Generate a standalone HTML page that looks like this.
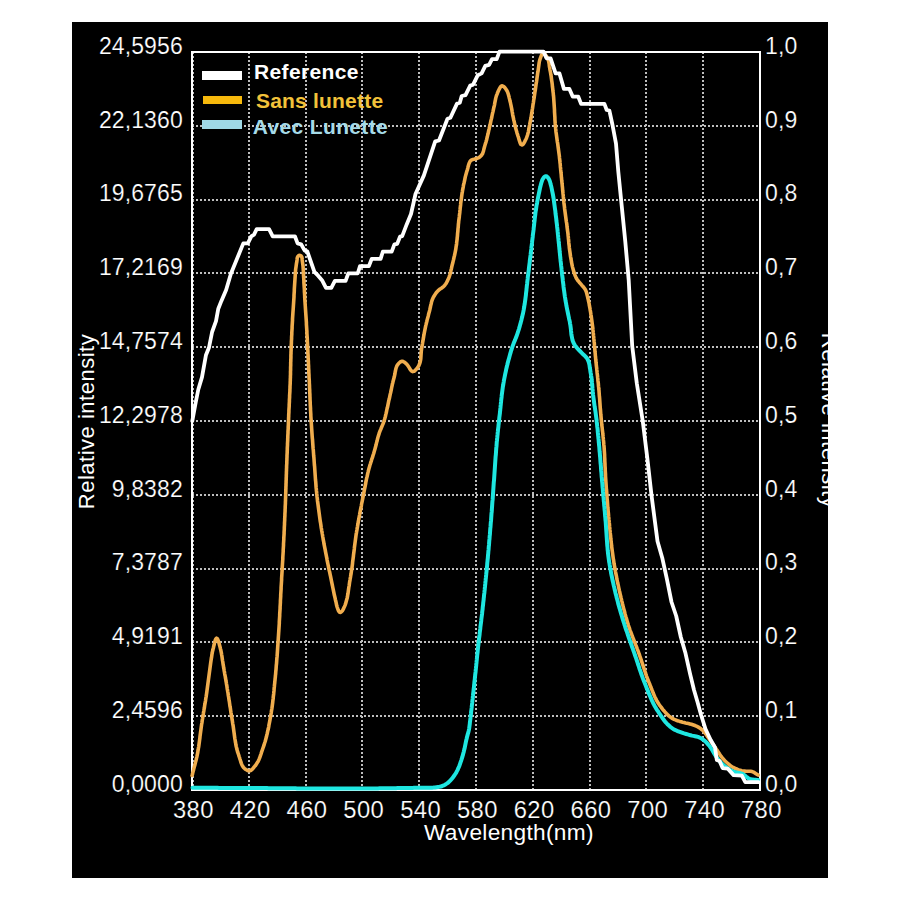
<!DOCTYPE html>
<html><head><meta charset="utf-8"><style>
html,body{margin:0;padding:0;background:#fff;width:900px;height:900px;overflow:hidden}
svg{display:block}
text{font-family:"Liberation Sans",sans-serif}
</style></head><body>
<svg width="900" height="900" viewBox="0 0 900 900">
<rect x="0" y="0" width="900" height="900" fill="#fff"/>
<rect x="72" y="22" width="756" height="856" fill="#000"/>
<g stroke="#bebebe" stroke-width="2" stroke-dasharray="2 2" fill="none">
<line x1="193" y1="52" x2="193" y2="789" />
<line x1="249" y1="52" x2="249" y2="789" />
<line x1="306" y1="52" x2="306" y2="789" />
<line x1="362" y1="52" x2="362" y2="789" />
<line x1="419" y1="52" x2="419" y2="789" />
<line x1="476" y1="52" x2="476" y2="789" />
<line x1="533" y1="52" x2="533" y2="789" />
<line x1="590" y1="52" x2="590" y2="789" />
<line x1="646" y1="52" x2="646" y2="789" />
<line x1="703" y1="52" x2="703" y2="789" />
<line x1="192" y1="126" x2="759" y2="126" />
<line x1="192" y1="200" x2="759" y2="200" />
<line x1="192" y1="273" x2="759" y2="273" />
<line x1="192" y1="347" x2="759" y2="347" />
<line x1="192" y1="421" x2="759" y2="421" />
<line x1="192" y1="495" x2="759" y2="495" />
<line x1="192" y1="569" x2="759" y2="569" />
<line x1="192" y1="642" x2="759" y2="642" />
<line x1="192" y1="716" x2="759" y2="716" />
</g>
<rect x="192" y="52" width="568" height="738" fill="none" stroke="#fff" stroke-width="2"/>
<g fill="#fff" font-size="22.5" stroke="#000" stroke-width="0.2">
<text x="182.8" y="53.7" text-anchor="end" letter-spacing="0.1" font-size="23">24,5956</text>
<text x="182.8" y="127.5" text-anchor="end" letter-spacing="0.1" font-size="23">22,1360</text>
<text x="182.8" y="201.3" text-anchor="end" letter-spacing="0.1" font-size="23">19,6765</text>
<text x="182.8" y="275.1" text-anchor="end" letter-spacing="0.1" font-size="23">17,2169</text>
<text x="182.8" y="348.9" text-anchor="end" letter-spacing="0.1" font-size="23">14,7574</text>
<text x="182.8" y="422.7" text-anchor="end" letter-spacing="0.1" font-size="23">12,2978</text>
<text x="182.8" y="496.5" text-anchor="end" letter-spacing="0.1" font-size="23">9,8382</text>
<text x="182.8" y="570.3" text-anchor="end" letter-spacing="0.1" font-size="23">7,3787</text>
<text x="182.8" y="644.1" text-anchor="end" letter-spacing="0.1" font-size="23">4,9191</text>
<text x="182.8" y="717.9" text-anchor="end" letter-spacing="0.1" font-size="23">2,4596</text>
<text x="182.8" y="791.7" text-anchor="end" letter-spacing="0.1" font-size="23">0,0000</text>
<text x="765" y="53.7" letter-spacing="0.1" font-size="23">1,0</text>
<text x="765" y="127.5" letter-spacing="0.1" font-size="23">0,9</text>
<text x="765" y="201.3" letter-spacing="0.1" font-size="23">0,8</text>
<text x="765" y="275.1" letter-spacing="0.1" font-size="23">0,7</text>
<text x="765" y="348.9" letter-spacing="0.1" font-size="23">0,6</text>
<text x="765" y="422.7" letter-spacing="0.1" font-size="23">0,5</text>
<text x="765" y="496.5" letter-spacing="0.1" font-size="23">0,4</text>
<text x="765" y="570.3" letter-spacing="0.1" font-size="23">0,3</text>
<text x="765" y="644.1" letter-spacing="0.1" font-size="23">0,2</text>
<text x="765" y="717.9" letter-spacing="0.1" font-size="23">0,1</text>
<text x="765" y="791.7" letter-spacing="0.1" font-size="23">0,0</text>
<text x="193.4" y="817.9" text-anchor="middle" letter-spacing="0.4" font-size="23.8">380</text>
<text x="250.2" y="817.9" text-anchor="middle" letter-spacing="0.4" font-size="23.8">420</text>
<text x="307" y="817.9" text-anchor="middle" letter-spacing="0.4" font-size="23.8">460</text>
<text x="363.8" y="817.9" text-anchor="middle" letter-spacing="0.4" font-size="23.8">500</text>
<text x="420.6" y="817.9" text-anchor="middle" letter-spacing="0.4" font-size="23.8">540</text>
<text x="477.4" y="817.9" text-anchor="middle" letter-spacing="0.4" font-size="23.8">580</text>
<text x="534.2" y="817.9" text-anchor="middle" letter-spacing="0.4" font-size="23.8">620</text>
<text x="591" y="817.9" text-anchor="middle" letter-spacing="0.4" font-size="23.8">660</text>
<text x="647.8" y="817.9" text-anchor="middle" letter-spacing="0.4" font-size="23.8">700</text>
<text x="704.6" y="817.9" text-anchor="middle" letter-spacing="0.4" font-size="23.8">740</text>
<text x="761.4" y="817.9" text-anchor="middle" letter-spacing="0.4" font-size="23.8">780</text>
</g>
<text x="424" y="840" fill="#fff" font-size="22.7" letter-spacing="0.3">Wavelength(nm)</text>
<text transform="translate(94.4 421.5) rotate(-90)" text-anchor="middle" fill="#fff" font-size="22" letter-spacing="0.5">Relative intensity</text>
<text transform="translate(821.5 420.5) rotate(90)" text-anchor="middle" fill="#fff" font-size="22" letter-spacing="0.5">Relative intensity</text>
<g fill="none" stroke-linejoin="round" stroke-linecap="round">
<path d="M192.1 775.5 L192.4 774.5 L192.7 773.1 L193.1 771.6 L193.5 770.2 L193.8 768.7 L194.2 767.3 L194.6 765.8 L195 764.4 L195.3 762.9 L195.7 761.5 L196.1 760 L196.4 758.6 L196.8 757.1 L197.1 755.6 L197.4 754.2 L197.7 752.7 L197.9 751.2 L198.2 749.7 L198.4 748.2 L198.7 746.8 L198.9 745.3 L199.1 743.8 L199.3 742.3 L199.5 740.8 L199.7 739.3 L199.9 737.8 L200 736.4 L200.2 734.9 L200.4 733.4 L200.6 731.9 L200.8 730.4 L201 728.9 L201.2 727.4 L201.4 725.9 L201.6 724.5 L201.9 723 L202.1 721.5 L202.3 720 L202.6 718.5 L202.8 717.1 L203 715.6 L203.3 714.1 L203.5 712.6 L203.8 711.1 L204 709.7 L204.3 708.2 L204.5 706.7 L204.7 705.2 L205 703.7 L205.2 702.3 L205.5 700.8 L205.7 699.3 L205.9 697.8 L206.2 696.3 L206.4 694.8 L206.6 693.4 L206.8 691.9 L207 690.4 L207.2 688.9 L207.4 687.4 L207.6 685.9 L207.8 684.4 L208 683 L208.2 681.5 L208.4 680 L208.6 678.5 L208.8 677 L209 675.5 L209.2 674 L209.4 672.5 L209.6 671.1 L209.8 669.6 L210 668.1 L210.2 666.6 L210.4 665.1 L210.6 663.6 L210.8 662.1 L211 660.7 L211.2 659.2 L211.5 657.7 L211.7 656.2 L211.9 654.7 L212.2 653.2 L212.4 651.8 L212.8 650.3 L213.1 648.8 L213.5 647.4 L213.8 645.9 L214.2 644.5 L214.5 643 L214.9 641.6 L215.3 640.1 L215.9 638.8 L216.6 638.2 L217.4 638.7 L218 640 L218.5 641.4 L218.9 642.9 L219.3 644.3 L219.7 645.8 L220.1 647.2 L220.4 648.7 L220.8 650.1 L221.1 651.6 L221.4 653.1 L221.6 654.5 L221.9 656 L222.1 657.5 L222.3 659 L222.5 660.5 L222.8 662 L223 663.4 L223.2 664.9 L223.5 666.4 L223.7 667.9 L224 669.4 L224.2 670.8 L224.5 672.3 L224.7 673.8 L225 675.3 L225.3 676.7 L225.5 678.2 L225.8 679.7 L226 681.2 L226.3 682.7 L226.5 684.1 L226.8 685.6 L227 687.1 L227.2 688.6 L227.5 690.1 L227.7 691.5 L228 693 L228.2 694.5 L228.4 696 L228.7 697.5 L228.9 698.9 L229.1 700.4 L229.4 701.9 L229.6 703.4 L229.8 704.9 L230 706.4 L230.3 707.8 L230.5 709.3 L230.7 710.8 L230.9 712.3 L231.2 713.8 L231.4 715.3 L231.6 716.7 L231.9 718.2 L232.1 719.7 L232.4 721.2 L232.6 722.7 L232.8 724.1 L233.1 725.6 L233.3 727.1 L233.5 728.6 L233.7 730.1 L233.9 731.6 L234.1 733.1 L234.3 734.5 L234.5 736 L234.7 737.5 L234.9 739 L235.2 740.5 L235.4 742 L235.7 743.4 L235.9 744.9 L236.2 746.4 L236.6 747.8 L236.9 749.3 L237.3 750.7 L237.7 752.2 L238.2 753.6 L238.7 755 L239.1 756.5 L239.6 757.9 L240 759.3 L240.5 760.8 L240.9 762.2 L241.4 763.6 L242 765 L242.7 766.3 L243.5 767.5 L244.6 768.6 L245.8 769.5 L247.1 770.2 L248.4 770.7 L249.8 770.7 L251.2 770.2 L252.3 769.2 L253.3 768.1 L254.2 766.9 L255.2 765.8 L256.1 764.6 L256.9 763.3 L257.7 762.1 L258.4 760.7 L259 759.4 L259.6 758 L260.1 756.6 L260.6 755.2 L261.1 753.7 L261.5 752.3 L262 750.9 L262.5 749.5 L263 748 L263.5 746.6 L264 745.2 L264.4 743.8 L264.9 742.3 L265.3 740.9 L265.7 739.5 L266.1 738 L266.5 736.6 L266.8 735.1 L267.2 733.7 L267.5 732.2 L267.8 730.7 L268.2 729.3 L268.5 727.8 L268.8 726.3 L269 724.8 L269.3 723.4 L269.6 721.9 L269.9 720.4 L270.1 718.9 L270.4 717.5 L270.7 716 L270.9 714.5 L271.2 713 L271.4 711.6 L271.6 710.1 L271.9 708.6 L272.1 707.1 L272.3 705.6 L272.5 704.1 L272.7 702.6 L272.8 701.2 L273 699.7 L273.2 698.2 L273.3 696.7 L273.5 695.2 L273.7 693.7 L273.8 692.2 L274 690.7 L274.1 689.2 L274.2 687.7 L274.4 686.2 L274.5 684.7 L274.7 683.3 L274.8 681.8 L275 680.3 L275.1 678.8 L275.3 677.3 L275.4 675.8 L275.6 674.3 L275.7 672.8 L275.8 671.3 L276 669.8 L276.1 668.3 L276.2 666.8 L276.3 665.3 L276.5 663.8 L276.6 662.3 L276.7 660.8 L276.8 659.3 L276.9 657.9 L277.1 656.4 L277.2 654.9 L277.3 653.4 L277.4 651.9 L277.5 650.4 L277.6 648.9 L277.7 647.4 L277.8 645.9 L277.9 644.4 L278 642.9 L278.1 641.4 L278.2 639.9 L278.3 638.4 L278.4 636.9 L278.5 635.4 L278.6 633.9 L278.7 632.4 L278.8 630.9 L278.9 629.4 L279 627.9 L279.1 626.4 L279.2 624.9 L279.3 623.4 L279.3 621.9 L279.4 620.4 L279.5 618.9 L279.6 617.4 L279.7 615.9 L279.7 614.4 L279.8 612.9 L279.9 611.4 L280 609.9 L280.1 608.5 L280.1 607 L280.2 605.5 L280.3 604 L280.4 602.5 L280.4 601 L280.5 599.5 L280.6 598 L280.7 596.5 L280.7 595 L280.8 593.5 L280.9 592 L281 590.5 L281.1 589 L281.1 587.5 L281.2 586 L281.3 584.5 L281.4 583 L281.5 581.5 L281.6 580 L281.6 578.5 L281.7 577 L281.8 575.5 L281.9 574 L282 572.5 L282.1 571 L282.2 569.5 L282.2 568 L282.3 566.5 L282.4 565 L282.5 563.5 L282.6 562 L282.7 560.5 L282.8 559 L282.8 557.5 L282.9 556 L283 554.5 L283.1 553 L283.2 551.5 L283.2 550 L283.3 548.5 L283.4 547 L283.5 545.5 L283.5 544 L283.6 542.5 L283.7 541 L283.8 539.6 L283.8 538.1 L283.9 536.6 L284 535.1 L284.1 533.6 L284.1 532.1 L284.2 530.6 L284.3 529.1 L284.3 527.6 L284.4 526.1 L284.5 524.6 L284.5 523.1 L284.6 521.6 L284.7 520.1 L284.7 518.6 L284.8 517.1 L284.9 515.6 L284.9 514.1 L285 512.6 L285.1 511.1 L285.1 509.6 L285.2 508.1 L285.2 506.6 L285.3 505.1 L285.4 503.6 L285.4 502.1 L285.5 500.6 L285.5 499.1 L285.6 497.6 L285.6 496.1 L285.7 494.6 L285.7 493.1 L285.8 491.6 L285.8 490.1 L285.9 488.6 L285.9 487.1 L286 485.6 L286 484.1 L286.1 482.6 L286.1 481.1 L286.2 479.6 L286.2 478.1 L286.3 476.6 L286.3 475.1 L286.4 473.6 L286.4 472.1 L286.5 470.6 L286.5 469.1 L286.6 467.6 L286.6 466.1 L286.7 464.6 L286.8 463.1 L286.8 461.6 L286.9 460.1 L286.9 458.6 L287 457.1 L287 455.6 L287.1 454.1 L287.2 452.6 L287.2 451.1 L287.3 449.6 L287.3 448.1 L287.4 446.6 L287.5 445.1 L287.5 443.6 L287.6 442.1 L287.7 440.6 L287.7 439.1 L287.8 437.6 L287.8 436.1 L287.9 434.6 L288 433.1 L288 431.6 L288.1 430.1 L288.2 428.6 L288.2 427.1 L288.3 425.6 L288.4 424.1 L288.4 422.6 L288.5 421.1 L288.6 419.6 L288.6 418.1 L288.7 416.7 L288.7 415.2 L288.8 413.7 L288.9 412.2 L288.9 410.7 L289 409.2 L289.1 407.7 L289.2 406.2 L289.2 404.7 L289.3 403.2 L289.4 401.7 L289.4 400.2 L289.5 398.7 L289.6 397.2 L289.6 395.7 L289.7 394.2 L289.8 392.7 L289.9 391.2 L289.9 389.7 L290 388.2 L290 386.7 L290.1 385.2 L290.2 383.7 L290.2 382.2 L290.3 380.7 L290.3 379.2 L290.4 377.7 L290.4 376.2 L290.5 374.7 L290.5 373.2 L290.5 371.7 L290.6 370.2 L290.6 368.7 L290.6 367.2 L290.7 365.7 L290.7 364.2 L290.7 362.7 L290.8 361.2 L290.8 359.7 L290.9 358.2 L290.9 356.7 L290.9 355.2 L291 353.7 L291 352.2 L291.1 350.7 L291.1 349.2 L291.2 347.7 L291.2 346.2 L291.3 344.7 L291.4 343.2 L291.4 341.7 L291.5 340.2 L291.6 338.7 L291.6 337.2 L291.7 335.7 L291.8 334.2 L291.8 332.7 L291.9 331.2 L292 329.7 L292.1 328.2 L292.1 326.7 L292.2 325.2 L292.3 323.7 L292.4 322.2 L292.5 320.7 L292.5 319.2 L292.6 317.7 L292.7 316.2 L292.8 314.7 L292.9 313.2 L293 311.7 L293.1 310.3 L293.2 308.8 L293.3 307.3 L293.4 305.8 L293.5 304.3 L293.6 302.8 L293.7 301.3 L293.8 299.8 L293.9 298.3 L294 296.8 L294 295.3 L294.1 293.8 L294.2 292.3 L294.3 290.8 L294.3 289.3 L294.4 287.8 L294.5 286.3 L294.6 284.8 L294.7 283.3 L294.8 281.8 L294.9 280.3 L295 278.8 L295.1 277.3 L295.2 275.8 L295.3 274.3 L295.4 272.8 L295.5 271.3 L295.6 269.8 L295.8 268.3 L296 266.9 L296.2 265.4 L296.4 263.9 L296.7 262.4 L296.9 260.9 L297.1 259.4 L297.2 258 L297.7 256.6 L298.6 255.6 L299.9 255.4 L301.1 255.9 L301.8 257 L302.1 258.4 L302.2 259.9 L302.4 261.4 L302.6 262.9 L302.8 264.4 L303 265.8 L303.1 267.3 L303.2 268.8 L303.3 270.3 L303.4 271.8 L303.5 273.3 L303.5 274.8 L303.6 276.3 L303.7 277.8 L303.8 279.3 L303.9 280.8 L303.9 282.3 L304 283.8 L304.1 285.3 L304.2 286.8 L304.3 288.3 L304.4 289.8 L304.4 291.3 L304.5 292.8 L304.6 294.3 L304.7 295.8 L304.7 297.3 L304.8 298.8 L304.9 300.3 L305 301.8 L305.1 303.3 L305.2 304.8 L305.3 306.3 L305.4 307.8 L305.5 309.3 L305.6 310.8 L305.7 312.3 L305.8 313.8 L305.9 315.3 L306 316.7 L306.1 318.2 L306.2 319.7 L306.3 321.2 L306.4 322.7 L306.4 324.2 L306.5 325.7 L306.6 327.2 L306.7 328.7 L306.8 330.2 L306.9 331.7 L306.9 333.2 L307 334.7 L307.1 336.2 L307.2 337.7 L307.3 339.2 L307.3 340.7 L307.4 342.2 L307.5 343.7 L307.6 345.2 L307.6 346.7 L307.7 348.2 L307.8 349.7 L307.9 351.2 L307.9 352.7 L308 354.2 L308.1 355.7 L308.1 357.2 L308.2 358.7 L308.3 360.2 L308.4 361.7 L308.4 363.2 L308.5 364.7 L308.6 366.2 L308.6 367.7 L308.7 369.2 L308.8 370.7 L308.8 372.2 L308.9 373.7 L309 375.2 L309 376.7 L309.1 378.2 L309.2 379.7 L309.3 381.2 L309.3 382.7 L309.4 384.2 L309.5 385.7 L309.5 387.2 L309.6 388.7 L309.7 390.2 L309.7 391.7 L309.8 393.2 L309.9 394.7 L309.9 396.1 L310 397.6 L310 399.1 L310.1 400.6 L310.2 402.1 L310.2 403.6 L310.3 405.1 L310.4 406.6 L310.5 408.1 L310.5 409.6 L310.6 411.1 L310.7 412.6 L310.8 414.1 L310.8 415.6 L310.9 417.1 L311 418.6 L311.1 420.1 L311.2 421.6 L311.3 423.1 L311.4 424.6 L311.5 426.1 L311.6 427.6 L311.7 429.1 L311.8 430.6 L311.9 432.1 L312 433.6 L312.1 435.1 L312.2 436.6 L312.3 438.1 L312.5 439.6 L312.6 441.1 L312.7 442.6 L312.8 444.1 L312.9 445.6 L313 447.1 L313.1 448.5 L313.3 450 L313.4 451.5 L313.5 453 L313.6 454.5 L313.7 456 L313.9 457.5 L314 459 L314.1 460.5 L314.2 462 L314.3 463.5 L314.4 465 L314.6 466.5 L314.7 468 L314.8 469.5 L314.9 471 L315 472.5 L315.1 474 L315.2 475.5 L315.3 477 L315.4 478.5 L315.5 480 L315.7 481.5 L315.8 482.9 L315.9 484.4 L316 485.9 L316.1 487.4 L316.3 488.9 L316.4 490.4 L316.6 491.9 L316.7 493.4 L316.9 494.9 L317 496.4 L317.2 497.9 L317.4 499.4 L317.5 500.9 L317.7 502.3 L317.9 503.8 L318.1 505.3 L318.3 506.8 L318.5 508.3 L318.7 509.8 L318.9 511.3 L319.1 512.8 L319.3 514.2 L319.5 515.7 L319.7 517.2 L319.9 518.7 L320.1 520.2 L320.3 521.7 L320.6 523.2 L320.8 524.6 L321 526.1 L321.2 527.6 L321.5 529.1 L321.7 530.6 L322 532 L322.2 533.5 L322.5 535 L322.7 536.5 L323 538 L323.2 539.4 L323.5 540.9 L323.8 542.4 L324 543.9 L324.3 545.3 L324.6 546.8 L324.9 548.3 L325.2 549.8 L325.4 551.2 L325.7 552.7 L326 554.2 L326.3 555.6 L326.6 557.1 L326.9 558.6 L327.1 560.1 L327.4 561.5 L327.7 563 L328 564.5 L328.3 565.9 L328.6 567.4 L328.9 568.9 L329.2 570.4 L329.6 571.8 L329.9 573.3 L330.2 574.8 L330.5 576.2 L330.8 577.7 L331.1 579.2 L331.4 580.6 L331.7 582.1 L332 583.6 L332.3 585 L332.6 586.5 L332.9 588 L333.2 589.4 L333.5 590.9 L333.8 592.4 L334.1 593.9 L334.4 595.3 L334.8 596.8 L335.1 598.2 L335.4 599.7 L335.8 601.2 L336.1 602.6 L336.4 604.1 L336.7 605.6 L337.1 607 L337.6 608.4 L338.1 609.8 L338.7 611.2 L339.5 612.2 L340.6 612.4 L341.6 611.6 L342.6 610.5 L343.3 609.2 L343.9 607.8 L344.5 606.5 L345.1 605.1 L345.6 603.7 L346 602.2 L346.4 600.8 L346.8 599.3 L347.2 597.9 L347.5 596.4 L347.7 594.9 L348 593.5 L348.2 592 L348.4 590.5 L348.6 589 L348.8 587.5 L349.1 586 L349.3 584.5 L349.5 583.1 L349.7 581.6 L350 580.1 L350.2 578.6 L350.5 577.1 L350.7 575.7 L351 574.2 L351.2 572.7 L351.4 571.2 L351.7 569.7 L351.9 568.3 L352.1 566.8 L352.3 565.3 L352.5 563.8 L352.6 562.3 L352.8 560.8 L353 559.3 L353.2 557.8 L353.4 556.3 L353.5 554.9 L353.7 553.4 L353.9 551.9 L354.1 550.4 L354.3 548.9 L354.4 547.4 L354.6 545.9 L354.8 544.4 L355 542.9 L355.2 541.5 L355.4 540 L355.6 538.5 L355.8 537 L356 535.5 L356.2 534 L356.5 532.6 L356.7 531.1 L357 529.6 L357.2 528.1 L357.5 526.6 L357.7 525.2 L358 523.7 L358.2 522.2 L358.5 520.7 L358.8 519.2 L359 517.8 L359.3 516.3 L359.6 514.8 L359.8 513.3 L360.1 511.9 L360.4 510.4 L360.7 508.9 L361 507.5 L361.3 506 L361.5 504.5 L361.8 503 L362.1 501.6 L362.4 500.1 L362.7 498.6 L363 497.1 L363.3 495.7 L363.6 494.2 L363.9 492.7 L364.1 491.3 L364.4 489.8 L364.7 488.3 L365 486.8 L365.3 485.4 L365.6 483.9 L365.8 482.4 L366.1 481 L366.4 479.5 L366.7 478 L367.1 476.5 L367.4 475.1 L367.7 473.6 L368.1 472.2 L368.4 470.7 L368.8 469.3 L369.2 467.8 L369.6 466.4 L370 464.9 L370.5 463.5 L370.9 462.1 L371.4 460.6 L371.8 459.2 L372.3 457.8 L372.8 456.4 L373.2 454.9 L373.7 453.5 L374.1 452.1 L374.5 450.6 L374.9 449.2 L375.3 447.7 L375.7 446.3 L376.1 444.8 L376.4 443.4 L376.8 441.9 L377.2 440.5 L377.5 439 L377.9 437.6 L378.3 436.1 L378.8 434.7 L379.2 433.2 L379.7 431.8 L380.3 430.4 L380.9 429 L381.4 427.7 L382 426.3 L382.6 424.9 L383.2 423.5 L383.7 422.1 L384.1 420.7 L384.6 419.2 L385 417.8 L385.4 416.4 L385.7 414.9 L386.1 413.4 L386.4 412 L386.7 410.5 L387 409 L387.4 407.6 L387.7 406.1 L388 404.6 L388.3 403.2 L388.6 401.7 L388.9 400.2 L389.3 398.8 L389.6 397.3 L389.9 395.9 L390.2 394.4 L390.6 392.9 L390.9 391.4 L391.2 390 L391.5 388.5 L391.8 387 L392.1 385.6 L392.4 384.1 L392.8 382.7 L393.1 381.2 L393.5 379.8 L393.9 378.3 L394.3 376.8 L394.6 375.4 L394.9 373.9 L395.1 372.4 L395.4 371 L395.7 369.5 L396.1 368 L396.6 366.6 L397.2 365.3 L398.1 364.1 L399.1 363 L400.2 362 L401.5 361.4 L402.9 361.4 L404.1 362 L405.3 362.9 L406.4 363.9 L407.4 365 L408.3 366.3 L409.1 367.5 L409.8 368.8 L410.6 370.1 L411.6 371.1 L412.8 371.6 L414.1 371.3 L415.2 370.4 L416.2 369.3 L417.2 368.2 L418 366.9 L418.8 365.7 L419.4 364.3 L419.9 362.9 L420.3 361.5 L420.6 360 L420.8 358.5 L420.9 357 L421 355.5 L421.1 354 L421.2 352.5 L421.3 351 L421.5 349.5 L421.7 348 L422 346.6 L422.2 345.1 L422.5 343.6 L422.7 342.1 L423 340.7 L423.2 339.2 L423.5 337.7 L423.7 336.2 L424 334.7 L424.2 333.3 L424.5 331.8 L424.8 330.3 L425.1 328.8 L425.4 327.4 L425.7 325.9 L426.1 324.4 L426.4 323 L426.8 321.5 L427.1 320.1 L427.5 318.6 L427.9 317.2 L428.3 315.7 L428.6 314.3 L429 312.8 L429.4 311.4 L429.8 309.9 L430.1 308.4 L430.4 307 L430.7 305.5 L431.1 304 L431.4 302.6 L431.8 301.1 L432.3 299.7 L432.9 298.3 L433.5 297 L434.3 295.7 L435.1 294.4 L435.9 293.2 L436.9 292 L437.9 290.9 L439 289.9 L440.1 289 L441.4 288.2 L442.6 287.3 L443.8 286.3 L444.8 285.2 L445.7 284 L446.4 282.8 L447.2 281.4 L447.8 280.1 L448.4 278.7 L449 277.4 L449.5 275.9 L450 274.5 L450.3 273.1 L450.7 271.6 L451 270.1 L451.4 268.7 L451.7 267.2 L452 265.8 L452.4 264.3 L452.8 262.8 L453.1 261.4 L453.5 259.9 L453.8 258.5 L454.1 257 L454.5 255.5 L454.8 254.1 L455.1 252.6 L455.4 251.1 L455.7 249.7 L455.9 248.2 L456.1 246.7 L456.4 245.2 L456.6 243.7 L456.7 242.2 L456.9 240.8 L457.1 239.3 L457.2 237.8 L457.4 236.3 L457.5 234.8 L457.6 233.3 L457.8 231.8 L457.9 230.3 L458 228.8 L458.2 227.3 L458.3 225.8 L458.4 224.3 L458.6 222.8 L458.7 221.3 L458.9 219.8 L459.1 218.4 L459.3 216.9 L459.4 215.4 L459.6 213.9 L459.8 212.4 L459.9 210.9 L460.1 209.4 L460.2 207.9 L460.4 206.4 L460.6 204.9 L460.7 203.5 L460.9 202 L461.1 200.5 L461.3 199 L461.5 197.5 L461.7 196 L461.9 194.5 L462.1 193 L462.4 191.6 L462.6 190.1 L462.9 188.6 L463.2 187.1 L463.4 185.7 L463.7 184.2 L464.1 182.7 L464.4 181.3 L464.7 179.8 L465 178.3 L465.3 176.9 L465.7 175.4 L466.1 174 L466.5 172.5 L466.9 171.1 L467.4 169.6 L467.8 168.2 L468.1 166.7 L468.5 165.3 L468.9 163.9 L469.5 162.5 L470.2 161.2 L471.3 160.2 L472.6 159.5 L474 159.2 L475.5 158.8 L476.9 158.4 L478.3 157.8 L479.6 157.1 L480.7 156.2 L481.7 155 L482.5 153.8 L483 152.4 L483.5 151 L483.8 149.5 L484.2 148 L484.6 146.6 L485 145.1 L485.4 143.7 L485.9 142.3 L486.3 140.8 L486.7 139.4 L487 137.9 L487.4 136.5 L487.7 135 L488.1 133.6 L488.4 132.1 L488.7 130.6 L489.1 129.2 L489.4 127.7 L489.7 126.2 L490.1 124.8 L490.4 123.3 L490.7 121.9 L491 120.4 L491.4 118.9 L491.7 117.5 L492 116 L492.3 114.5 L492.6 113.1 L493 111.6 L493.3 110.1 L493.6 108.7 L493.9 107.2 L494.3 105.7 L494.6 104.3 L494.8 102.8 L495.1 101.3 L495.4 99.9 L495.7 98.4 L496.1 96.9 L496.5 95.5 L497.1 94.1 L497.6 92.7 L498.2 91.3 L498.8 90 L499.5 88.6 L500.2 87.3 L501.1 86.2 L502.3 85.8 L503.5 86.3 L504.6 87.3 L505.5 88.5 L506.3 89.7 L507.1 91 L507.7 92.4 L508.2 93.8 L508.6 95.2 L509 96.7 L509.3 98.1 L509.7 99.6 L510 101.1 L510.4 102.5 L510.7 104 L511 105.4 L511.3 106.9 L511.6 108.4 L511.9 109.9 L512.1 111.3 L512.4 112.8 L512.6 114.3 L512.9 115.8 L513.2 117.2 L513.5 118.7 L513.8 120.2 L514.2 121.6 L514.5 123.1 L514.8 124.6 L515.2 126 L515.5 127.5 L515.9 128.9 L516.3 130.4 L516.7 131.8 L517.1 133.3 L517.6 134.7 L518 136.1 L518.5 137.5 L518.9 139 L519.3 140.4 L519.8 141.9 L520.3 143.3 L521 144.5 L522 145 L523 144.4 L523.9 143.2 L524.6 141.9 L525.2 140.6 L525.9 139.2 L526.5 137.9 L527 136.5 L527.5 135 L527.9 133.6 L528.3 132.1 L528.6 130.7 L528.9 129.2 L529.1 127.7 L529.4 126.2 L529.7 124.8 L529.9 123.3 L530.2 121.8 L530.5 120.3 L530.8 118.9 L531.1 117.4 L531.3 115.9 L531.5 114.4 L531.8 113 L532 111.5 L532.2 110 L532.5 108.5 L532.7 107 L532.9 105.5 L533.1 104.1 L533.4 102.6 L533.6 101.1 L533.8 99.6 L534.1 98.1 L534.3 96.6 L534.5 95.2 L534.7 93.7 L534.9 92.2 L535.2 90.7 L535.4 89.2 L535.6 87.7 L535.8 86.3 L536 84.8 L536.2 83.3 L536.5 81.8 L536.7 80.3 L536.9 78.8 L537.1 77.3 L537.3 75.9 L537.5 74.4 L537.7 72.9 L538 71.4 L538.2 69.9 L538.4 68.4 L538.6 67 L538.8 65.5 L539 64 L539.2 62.5 L539.5 61 L539.9 59.6 L540.4 58.2 L540.9 56.7 L541.4 55.3 L542.1 54.1 L543 53.3 L544.2 53.6 L545.2 54.6 L546.1 55.7 L547 57 L547.7 58.3 L548.2 59.7 L548.6 61.1 L548.9 62.6 L549.2 64.1 L549.3 65.5 L549.5 67 L549.8 68.5 L550 70 L550.3 71.5 L550.6 72.9 L550.8 74.4 L551.1 75.9 L551.3 77.4 L551.5 78.9 L551.7 80.4 L551.9 81.8 L552.1 83.3 L552.3 84.8 L552.4 86.3 L552.6 87.8 L552.8 89.3 L552.9 90.8 L553.1 92.3 L553.3 93.8 L553.4 95.3 L553.6 96.7 L553.7 98.2 L553.8 99.7 L553.9 101.2 L554 102.7 L554.1 104.2 L554.2 105.7 L554.3 107.2 L554.4 108.7 L554.5 110.2 L554.5 111.7 L554.6 113.2 L554.7 114.7 L554.8 116.2 L554.9 117.7 L554.9 119.2 L555 120.7 L555.1 122.2 L555.2 123.7 L555.4 125.2 L555.5 126.7 L555.6 128.2 L555.8 129.7 L555.9 131.2 L556.1 132.7 L556.3 134.1 L556.5 135.6 L556.7 137.1 L556.9 138.6 L557.1 140.1 L557.3 141.6 L557.6 143.1 L557.8 144.5 L558 146 L558.2 147.5 L558.4 149 L558.6 150.5 L558.8 152 L559 153.4 L559.2 154.9 L559.4 156.4 L559.5 157.9 L559.7 159.4 L559.9 160.9 L560 162.4 L560.2 163.9 L560.3 165.4 L560.4 166.9 L560.6 168.4 L560.7 169.9 L560.9 171.4 L561 172.8 L561.2 174.3 L561.3 175.8 L561.4 177.3 L561.6 178.8 L561.7 180.3 L561.9 181.8 L562 183.3 L562.2 184.8 L562.3 186.3 L562.5 187.8 L562.6 189.3 L562.7 190.8 L562.9 192.3 L563 193.7 L563.2 195.2 L563.3 196.7 L563.5 198.2 L563.6 199.7 L563.8 201.2 L563.9 202.7 L564.1 204.2 L564.3 205.7 L564.5 207.2 L564.6 208.7 L564.8 210.1 L565 211.6 L565.2 213.1 L565.4 214.6 L565.6 216.1 L565.8 217.6 L566 219.1 L566.2 220.6 L566.4 222 L566.7 223.5 L566.9 225 L567 226.5 L567.2 228 L567.4 229.5 L567.6 231 L567.8 232.5 L568 233.9 L568.1 235.4 L568.3 236.9 L568.4 238.4 L568.6 239.9 L568.7 241.4 L568.8 242.9 L569 244.4 L569.2 245.9 L569.3 247.4 L569.5 248.9 L569.7 250.4 L569.9 251.8 L570.1 253.3 L570.3 254.8 L570.5 256.3 L570.8 257.8 L571 259.2 L571.3 260.7 L571.5 262.2 L571.8 263.7 L572.1 265.2 L572.4 266.6 L572.8 268.1 L573.2 269.5 L573.6 271 L574 272.4 L574.5 273.8 L575 275.2 L575.6 276.6 L576.2 278 L577 279.3 L577.8 280.5 L578.8 281.7 L579.7 282.8 L580.7 283.9 L581.7 285.1 L582.7 286.2 L583.7 287.3 L584.6 288.5 L585.4 289.7 L586 291.1 L586.5 292.5 L586.9 294 L587.2 295.4 L587.6 296.9 L587.9 298.3 L588.3 299.8 L588.6 301.3 L588.9 302.7 L589.2 304.2 L589.4 305.7 L589.7 307.2 L590 308.6 L590.2 310.1 L590.5 311.6 L590.7 313.1 L590.9 314.6 L591.2 316 L591.4 317.5 L591.6 319 L591.8 320.5 L592 322 L592.2 323.5 L592.4 325 L592.6 326.4 L592.8 327.9 L592.9 329.4 L593.1 330.9 L593.2 332.4 L593.4 333.9 L593.5 335.4 L593.7 336.9 L593.8 338.4 L594 339.9 L594.1 341.4 L594.3 342.9 L594.4 344.4 L594.5 345.9 L594.7 347.3 L594.8 348.8 L594.9 350.3 L595 351.8 L595.2 353.3 L595.3 354.8 L595.4 356.3 L595.6 357.8 L595.7 359.3 L595.9 360.8 L596 362.3 L596.2 363.8 L596.3 365.3 L596.5 366.8 L596.7 368.3 L596.8 369.7 L597 371.2 L597.1 372.7 L597.3 374.2 L597.5 375.7 L597.6 377.2 L597.8 378.7 L597.9 380.2 L598.1 381.7 L598.3 383.2 L598.4 384.7 L598.5 386.2 L598.7 387.6 L598.8 389.1 L599 390.6 L599.1 392.1 L599.2 393.6 L599.3 395.1 L599.4 396.6 L599.6 398.1 L599.7 399.6 L599.8 401.1 L599.9 402.6 L600 404.1 L600.1 405.6 L600.2 407.1 L600.3 408.6 L600.5 410.1 L600.6 411.6 L600.7 413.1 L600.8 414.6 L601 416.1 L601.1 417.5 L601.2 419 L601.4 420.5 L601.5 422 L601.7 423.5 L601.8 425 L602 426.5 L602.2 428 L602.3 429.5 L602.5 431 L602.7 432.5 L602.8 434 L603 435.4 L603.1 436.9 L603.3 438.4 L603.4 439.9 L603.6 441.4 L603.7 442.9 L603.8 444.4 L604 445.9 L604.1 447.4 L604.2 448.9 L604.3 450.4 L604.4 451.9 L604.5 453.4 L604.6 454.9 L604.6 456.4 L604.7 457.9 L604.8 459.4 L604.8 460.9 L604.9 462.4 L605 463.9 L605 465.4 L605.1 466.9 L605.2 468.4 L605.2 469.9 L605.3 471.4 L605.4 472.9 L605.5 474.4 L605.5 475.9 L605.6 477.4 L605.7 478.9 L605.8 480.3 L605.9 481.8 L606 483.3 L606.1 484.8 L606.2 486.3 L606.3 487.8 L606.4 489.3 L606.6 490.8 L606.7 492.3 L606.8 493.8 L606.9 495.3 L607 496.8 L607.1 498.3 L607.2 499.8 L607.4 501.3 L607.5 502.8 L607.6 504.3 L607.7 505.8 L607.8 507.3 L608 508.8 L608.1 510.3 L608.2 511.8 L608.4 513.2 L608.5 514.7 L608.6 516.2 L608.8 517.7 L608.9 519.2 L609.1 520.7 L609.2 522.2 L609.4 523.7 L609.5 525.2 L609.6 526.7 L609.8 528.2 L609.9 529.7 L610.1 531.2 L610.2 532.7 L610.4 534.2 L610.5 535.6 L610.7 537.1 L610.8 538.6 L611 540.1 L611.1 541.6 L611.3 543.1 L611.5 544.6 L611.6 546.1 L611.8 547.6 L612 549.1 L612.2 550.6 L612.4 552 L612.6 553.5 L612.8 555 L613 556.5 L613.2 558 L613.4 559.5 L613.7 560.9 L613.9 562.4 L614.1 563.9 L614.4 565.4 L614.6 566.9 L614.9 568.3 L615.2 569.8 L615.4 571.3 L615.7 572.8 L616 574.2 L616.3 575.7 L616.6 577.2 L616.8 578.7 L617.1 580.1 L617.4 581.6 L617.7 583.1 L618.1 584.5 L618.4 586 L618.7 587.5 L619 588.9 L619.3 590.4 L619.7 591.9 L620 593.3 L620.3 594.8 L620.7 596.2 L621 597.7 L621.4 599.2 L621.7 600.6 L622.1 602.1 L622.4 603.5 L622.8 605 L623.1 606.5 L623.5 607.9 L623.9 609.4 L624.3 610.8 L624.7 612.3 L625 613.7 L625.4 615.2 L625.8 616.6 L626.3 618 L626.7 619.5 L627.1 620.9 L627.5 622.4 L628 623.8 L628.4 625.2 L628.9 626.7 L629.4 628.1 L629.8 629.5 L630.3 630.9 L630.9 632.3 L631.4 633.7 L631.9 635.1 L632.4 636.5 L633 637.9 L633.5 639.3 L634.1 640.7 L634.6 642.1 L635.2 643.5 L635.7 644.9 L636.3 646.3 L636.8 647.7 L637.3 649.1 L637.9 650.5 L638.4 651.9 L638.9 653.3 L639.4 654.7 L639.9 656.2 L640.4 657.6 L640.9 659 L641.3 660.4 L641.8 661.8 L642.3 663.3 L642.7 664.7 L643.2 666.1 L643.7 667.6 L644.1 669 L644.6 670.4 L645.1 671.8 L645.6 673.2 L646 674.7 L646.5 676.1 L647.1 677.5 L647.6 678.9 L648.1 680.3 L648.7 681.7 L649.3 683.1 L649.8 684.5 L650.4 685.9 L650.9 687.3 L651.5 688.7 L652 690 L652.6 691.4 L653.1 692.8 L653.7 694.2 L654.3 695.6 L654.9 697 L655.6 698.3 L656.2 699.7 L656.9 701 L657.7 702.3 L658.5 703.6 L659.3 704.8 L660.2 706 L661.1 707.2 L662 708.4 L662.9 709.6 L663.9 710.7 L664.9 711.9 L665.9 713 L666.9 714.1 L668 715.1 L669.1 716.1 L670.3 717 L671.5 717.9 L672.8 718.7 L674.1 719.4 L675.5 719.9 L676.9 720.5 L678.3 720.9 L679.8 721.4 L681.2 721.8 L682.6 722.2 L684.1 722.5 L685.6 722.9 L687 723.2 L688.5 723.5 L689.9 723.9 L691.4 724.3 L692.8 724.8 L694.2 725.3 L695.6 725.8 L697 726.4 L698.3 727.1 L699.6 727.9 L700.8 728.8 L702 729.7 L703.1 730.8 L704.1 731.8 L705.1 733 L706 734.2 L706.8 735.4 L707.6 736.7 L708.5 737.9 L709.3 739.1 L710.2 740.4 L711.1 741.6 L711.9 742.8 L712.8 744 L713.7 745.2 L714.5 746.5 L715.4 747.7 L716.2 748.9 L717.1 750.2 L717.9 751.5 L718.7 752.7 L719.5 754 L720.3 755.2 L721.2 756.5 L722.1 757.6 L723.1 758.8 L724.1 759.9 L725.1 761 L726.2 762 L727.3 763 L728.4 764 L729.6 765 L730.8 765.9 L732 766.7 L733.3 767.5 L734.7 768.1 L736 768.8 L737.4 769.3 L738.8 769.9 L740.3 770.3 L741.7 770.7 L743.2 771 L744.7 771.1 L746.2 771.2 L747.7 771.2 L749.2 771.2 L750.6 771.3 L752.1 771.6 L753.5 772.2 L754.8 772.9 L756 773.7 L757.2 774.5 L758.1 775.1 L758.1 775.1" stroke="#f0ad4e" stroke-width="3.6"/>
<path d="M192.5 787.8 L193.6 787.8 L195 787.8 L196.5 787.8 L198 787.8 L199.5 787.8 L201 787.8 L202.5 787.8 L204 787.8 L205.5 787.8 L207 787.8 L208.5 787.8 L210 787.8 L211.5 787.8 L213 787.8 L214.5 787.8 L216 787.8 L217.5 787.8 L219 787.9 L220.5 787.9 L222 787.9 L223.5 787.9 L225 787.9 L226.5 787.9 L228 787.9 L229.5 787.9 L231 787.9 L232.5 787.9 L234 787.9 L235.5 787.9 L237 787.9 L238.5 788 L240 788 L241.5 788 L243 788 L244.5 788 L246 788 L247.5 788 L249 788 L250.5 788 L252 788 L253.5 788.1 L255 788.1 L256.5 788.1 L258 788.1 L259.5 788.1 L261 788.1 L262.5 788.1 L264 788.1 L265.5 788.1 L267 788.1 L268.5 788.2 L270 788.2 L271.5 788.2 L273 788.2 L274.5 788.2 L276 788.2 L277.5 788.2 L279 788.2 L280.5 788.2 L282 788.3 L283.5 788.3 L285 788.3 L286.5 788.3 L288 788.3 L289.5 788.3 L291 788.3 L292.5 788.3 L294 788.3 L295.5 788.3 L297 788.4 L298.5 788.4 L300 788.4 L301.5 788.4 L303 788.4 L304.5 788.4 L306 788.4 L307.5 788.4 L309 788.4 L310.5 788.4 L312 788.4 L313.5 788.4 L315 788.4 L316.5 788.5 L318 788.5 L319.5 788.5 L321 788.5 L322.5 788.5 L324 788.5 L325.5 788.5 L327 788.5 L328.5 788.5 L330 788.5 L331.5 788.5 L333 788.5 L334.5 788.5 L336 788.5 L337.5 788.5 L339 788.5 L340.5 788.5 L342 788.5 L343.5 788.5 L345 788.5 L346.5 788.5 L348 788.5 L349.5 788.5 L351 788.5 L352.5 788.5 L354 788.5 L355.5 788.5 L357 788.5 L358.5 788.5 L360 788.5 L361.5 788.5 L363 788.5 L364.5 788.5 L366 788.4 L367.5 788.4 L369 788.4 L370.5 788.4 L372 788.4 L373.5 788.4 L375 788.4 L376.5 788.4 L378 788.4 L379.5 788.3 L381 788.3 L382.5 788.3 L384 788.3 L385.5 788.3 L387 788.3 L388.5 788.3 L390 788.2 L391.5 788.2 L393 788.2 L394.5 788.2 L396 788.2 L397.5 788.1 L399 788.1 L400.5 788.1 L402 788.1 L403.5 788 L405 788 L406.5 788 L408 788 L409.5 787.9 L411 787.9 L412.5 787.9 L414 787.8 L415.5 787.8 L417 787.8 L418.5 787.7 L420 787.7 L421.5 787.7 L423 787.7 L424.5 787.7 L426 787.7 L427.5 787.7 L429 787.7 L430.5 787.7 L432 787.7 L433.5 787.6 L435 787.4 L436.5 787.2 L438 787 L439.4 786.8 L440.9 786.5 L442.3 786 L443.7 785.4 L445 784.7 L446.3 783.9 L447.5 783.1 L448.7 782.1 L449.7 781.1 L450.8 780 L451.8 778.9 L452.7 777.7 L453.6 776.5 L454.5 775.3 L455.3 774 L456.1 772.8 L456.8 771.4 L457.5 770.1 L458.1 768.7 L458.7 767.4 L459.3 766 L459.8 764.6 L460.3 763.2 L460.8 761.7 L461.3 760.3 L461.7 758.9 L462.2 757.5 L462.6 756 L463 754.6 L463.4 753.1 L463.8 751.7 L464.1 750.2 L464.5 748.8 L464.8 747.3 L465.1 745.8 L465.4 744.4 L465.7 742.9 L466 741.4 L466.3 740 L466.7 738.5 L467 737 L467.4 735.6 L467.8 734.1 L468.2 732.7 L468.6 731.2 L468.9 729.8 L469.2 728.3 L469.4 726.8 L469.6 725.3 L469.8 723.8 L469.9 722.4 L470.1 720.9 L470.3 719.4 L470.5 717.9 L470.6 716.4 L470.8 714.9 L471 713.4 L471.1 711.9 L471.3 710.4 L471.5 708.9 L471.7 707.5 L471.8 706 L472 704.5 L472.2 703 L472.3 701.5 L472.5 700 L472.7 698.5 L472.8 697 L473 695.5 L473.1 694 L473.3 692.5 L473.5 691.1 L473.6 689.6 L473.8 688.1 L474 686.6 L474.1 685.1 L474.3 683.6 L474.4 682.1 L474.6 680.6 L474.8 679.1 L474.9 677.6 L475.1 676.1 L475.2 674.6 L475.4 673.2 L475.6 671.7 L475.7 670.2 L475.9 668.7 L476 667.2 L476.2 665.7 L476.3 664.2 L476.5 662.7 L476.6 661.2 L476.8 659.7 L476.9 658.2 L477.1 656.7 L477.2 655.2 L477.4 653.8 L477.6 652.3 L477.7 650.8 L477.9 649.3 L478 647.8 L478.2 646.3 L478.4 644.8 L478.5 643.3 L478.7 641.8 L478.9 640.3 L479 638.8 L479.2 637.4 L479.4 635.9 L479.6 634.4 L479.7 632.9 L479.9 631.4 L480.1 629.9 L480.3 628.4 L480.4 626.9 L480.6 625.4 L480.8 624 L481 622.5 L481.2 621 L481.3 619.5 L481.5 618 L481.7 616.5 L481.9 615 L482.1 613.5 L482.2 612 L482.4 610.5 L482.6 609.1 L482.7 607.6 L482.9 606.1 L483.1 604.6 L483.2 603.1 L483.4 601.6 L483.6 600.1 L483.7 598.6 L483.9 597.1 L484 595.6 L484.2 594.1 L484.4 592.7 L484.5 591.2 L484.7 589.7 L484.8 588.2 L485 586.7 L485.1 585.2 L485.3 583.7 L485.4 582.2 L485.6 580.7 L485.7 579.2 L485.9 577.7 L486 576.2 L486.2 574.7 L486.3 573.3 L486.5 571.8 L486.6 570.3 L486.8 568.8 L486.9 567.3 L487.1 565.8 L487.2 564.3 L487.3 562.8 L487.5 561.3 L487.6 559.8 L487.8 558.3 L487.9 556.8 L488 555.3 L488.2 553.8 L488.3 552.3 L488.4 550.9 L488.6 549.4 L488.7 547.9 L488.8 546.4 L489 544.9 L489.1 543.4 L489.2 541.9 L489.3 540.4 L489.5 538.9 L489.6 537.4 L489.7 535.9 L489.9 534.4 L490 532.9 L490.1 531.4 L490.2 529.9 L490.3 528.4 L490.5 526.9 L490.6 525.4 L490.7 523.9 L490.8 522.5 L491 521 L491.1 519.5 L491.2 518 L491.3 516.5 L491.4 515 L491.5 513.5 L491.7 512 L491.8 510.5 L491.9 509 L492 507.5 L492.1 506 L492.2 504.5 L492.3 503 L492.4 501.5 L492.6 500 L492.7 498.5 L492.8 497 L492.9 495.5 L493 494 L493.1 492.5 L493.2 491 L493.3 489.5 L493.4 488.1 L493.5 486.6 L493.6 485.1 L493.7 483.6 L493.8 482.1 L494 480.6 L494.1 479.1 L494.2 477.6 L494.3 476.1 L494.4 474.6 L494.5 473.1 L494.6 471.6 L494.7 470.1 L494.8 468.6 L494.9 467.1 L495 465.6 L495.1 464.1 L495.2 462.6 L495.3 461.1 L495.4 459.6 L495.5 458.1 L495.6 456.6 L495.8 455.1 L495.9 453.6 L496 452.1 L496.1 450.6 L496.2 449.2 L496.3 447.7 L496.5 446.2 L496.6 444.7 L496.7 443.2 L496.8 441.7 L497 440.2 L497.1 438.7 L497.3 437.2 L497.4 435.7 L497.6 434.2 L497.7 432.7 L497.9 431.2 L498 429.7 L498.2 428.2 L498.4 426.8 L498.5 425.3 L498.7 423.8 L498.8 422.3 L499 420.8 L499.2 419.3 L499.3 417.8 L499.5 416.3 L499.7 414.8 L499.9 413.3 L500 411.8 L500.2 410.4 L500.3 408.9 L500.5 407.4 L500.6 405.9 L500.8 404.4 L500.9 402.9 L501.1 401.4 L501.2 399.9 L501.4 398.4 L501.6 396.9 L501.7 395.4 L501.9 393.9 L502.1 392.5 L502.3 391 L502.5 389.5 L502.7 388 L502.9 386.5 L503.2 385 L503.4 383.6 L503.7 382.1 L503.9 380.6 L504.2 379.1 L504.5 377.7 L504.8 376.2 L505.1 374.7 L505.4 373.2 L505.7 371.8 L506 370.3 L506.3 368.8 L506.7 367.4 L507 365.9 L507.4 364.5 L507.7 363 L508.1 361.6 L508.5 360.1 L508.9 358.7 L509.3 357.2 L509.7 355.8 L510.1 354.3 L510.5 352.9 L510.9 351.4 L511.4 350 L511.8 348.6 L512.3 347.2 L512.8 345.7 L513.3 344.3 L513.8 342.9 L514.4 341.5 L515 340.1 L515.5 338.8 L516.1 337.4 L516.6 336 L517.1 334.6 L517.6 333.1 L518.1 331.7 L518.5 330.3 L519 328.8 L519.4 327.4 L519.8 326 L520.2 324.5 L520.6 323.1 L521 321.6 L521.4 320.2 L521.7 318.7 L522.1 317.3 L522.4 315.8 L522.8 314.3 L523.1 312.9 L523.4 311.4 L523.7 309.9 L523.9 308.5 L524.2 307 L524.4 305.5 L524.7 304 L524.9 302.5 L525.1 301 L525.3 299.6 L525.5 298.1 L525.7 296.6 L525.9 295.1 L526 293.6 L526.2 292.1 L526.4 290.6 L526.5 289.1 L526.7 287.6 L526.8 286.1 L527 284.7 L527.2 283.2 L527.3 281.7 L527.5 280.2 L527.7 278.7 L527.8 277.2 L528 275.7 L528.2 274.2 L528.4 272.7 L528.6 271.2 L528.8 269.8 L528.9 268.3 L529.1 266.8 L529.3 265.3 L529.5 263.8 L529.7 262.3 L529.8 260.8 L530 259.3 L530.2 257.8 L530.4 256.4 L530.6 254.9 L530.7 253.4 L530.9 251.9 L531.1 250.4 L531.3 248.9 L531.4 247.4 L531.6 245.9 L531.8 244.4 L532 243 L532.1 241.5 L532.3 240 L532.5 238.5 L532.7 237 L532.8 235.5 L533 234 L533.2 232.5 L533.4 231 L533.6 229.5 L533.7 228.1 L533.9 226.6 L534.1 225.1 L534.2 223.6 L534.4 222.1 L534.6 220.6 L534.7 219.1 L534.9 217.6 L535.1 216.1 L535.3 214.6 L535.4 213.2 L535.6 211.7 L535.9 210.2 L536.1 208.7 L536.3 207.2 L536.5 205.7 L536.8 204.3 L537.1 202.8 L537.3 201.3 L537.6 199.8 L537.9 198.4 L538.2 196.9 L538.5 195.4 L538.8 193.9 L539.1 192.5 L539.4 191 L539.7 189.5 L540 188.1 L540.4 186.6 L540.7 185.2 L541.1 183.7 L541.5 182.3 L542 180.8 L542.5 179.5 L543.3 178.2 L544.2 177 L545.2 176.2 L546.4 176.2 L547.5 177 L548.4 178.2 L549.1 179.5 L549.7 180.9 L550.2 182.3 L550.5 183.8 L550.9 185.2 L551.3 186.7 L551.6 188.1 L551.9 189.6 L552.2 191.1 L552.5 192.5 L552.8 194 L553.1 195.5 L553.3 197 L553.6 198.4 L553.8 199.9 L554 201.4 L554.2 202.9 L554.4 204.4 L554.6 205.9 L554.8 207.4 L555 208.9 L555.2 210.3 L555.4 211.8 L555.5 213.3 L555.7 214.8 L555.9 216.3 L556.1 217.8 L556.3 219.3 L556.4 220.8 L556.6 222.3 L556.8 223.7 L557 225.2 L557.1 226.7 L557.3 228.2 L557.5 229.7 L557.6 231.2 L557.8 232.7 L557.9 234.2 L558.1 235.7 L558.2 237.2 L558.4 238.7 L558.5 240.2 L558.7 241.6 L558.8 243.1 L559 244.6 L559.1 246.1 L559.3 247.6 L559.4 249.1 L559.6 250.6 L559.7 252.1 L559.9 253.6 L560 255.1 L560.2 256.6 L560.3 258.1 L560.5 259.6 L560.6 261 L560.8 262.5 L561 264 L561.1 265.5 L561.3 267 L561.5 268.5 L561.6 270 L561.8 271.5 L562 273 L562.1 274.5 L562.3 276 L562.5 277.4 L562.7 278.9 L562.8 280.4 L563 281.9 L563.2 283.4 L563.4 284.9 L563.5 286.4 L563.7 287.9 L563.9 289.4 L564.1 290.8 L564.3 292.3 L564.5 293.8 L564.7 295.3 L564.9 296.8 L565.2 298.3 L565.4 299.8 L565.6 301.2 L565.9 302.7 L566.2 304.2 L566.4 305.7 L566.7 307.1 L567 308.6 L567.3 310.1 L567.6 311.5 L567.9 313 L568.2 314.5 L568.5 315.9 L568.8 317.4 L569.1 318.9 L569.5 320.4 L569.8 321.8 L570 323.3 L570.3 324.8 L570.5 326.3 L570.7 327.7 L570.9 329.2 L571 330.7 L571.2 332.2 L571.3 333.7 L571.5 335.2 L571.8 336.7 L572.1 338.1 L572.4 339.6 L572.8 341 L573.4 342.4 L574 343.8 L574.8 345.1 L575.6 346.3 L576.6 347.5 L577.5 348.6 L578.6 349.7 L579.6 350.8 L580.7 351.8 L581.7 352.9 L582.8 354 L583.9 355 L585 356 L586 357.1 L587 358.3 L587.7 359.5 L588.3 360.9 L588.8 362.3 L589.2 363.8 L589.5 365.2 L589.7 366.7 L589.9 368.2 L590.2 369.7 L590.4 371.2 L590.6 372.6 L590.9 374.1 L591.1 375.6 L591.4 377.1 L591.6 378.6 L591.7 380.1 L591.9 381.5 L592 383 L592.2 384.5 L592.3 386 L592.4 387.5 L592.5 389 L592.7 390.5 L592.8 392 L593 393.5 L593.1 395 L593.3 396.5 L593.5 398 L593.7 399.5 L593.9 400.9 L594.1 402.4 L594.3 403.9 L594.5 405.4 L594.7 406.9 L595 408.4 L595.2 409.9 L595.4 411.3 L595.6 412.8 L595.8 414.3 L596 415.8 L596.2 417.3 L596.4 418.8 L596.6 420.3 L596.7 421.7 L596.9 423.2 L597.1 424.7 L597.2 426.2 L597.4 427.7 L597.6 429.2 L597.7 430.7 L597.8 432.2 L598 433.7 L598.1 435.2 L598.3 436.7 L598.4 438.2 L598.6 439.7 L598.7 441.1 L598.8 442.6 L599 444.1 L599.1 445.6 L599.3 447.1 L599.4 448.6 L599.5 450.1 L599.6 451.6 L599.8 453.1 L599.9 454.6 L600 456.1 L600.2 457.6 L600.3 459.1 L600.4 460.6 L600.5 462.1 L600.6 463.6 L600.8 465.1 L600.9 466.6 L601 468 L601.1 469.5 L601.2 471 L601.4 472.5 L601.5 474 L601.6 475.5 L601.7 477 L601.9 478.5 L602 480 L602.1 481.5 L602.3 483 L602.4 484.5 L602.5 486 L602.6 487.5 L602.8 489 L602.9 490.5 L603 492 L603.2 493.5 L603.3 495 L603.4 496.4 L603.6 497.9 L603.7 499.4 L603.8 500.9 L604 502.4 L604.1 503.9 L604.2 505.4 L604.4 506.9 L604.5 508.4 L604.6 509.9 L604.8 511.4 L604.9 512.9 L605 514.4 L605.1 515.9 L605.3 517.4 L605.4 518.9 L605.5 520.4 L605.7 521.8 L605.8 523.3 L605.9 524.8 L606 526.3 L606.1 527.8 L606.2 529.3 L606.3 530.8 L606.4 532.3 L606.5 533.8 L606.6 535.3 L606.7 536.8 L606.8 538.3 L606.9 539.8 L607 541.3 L607.1 542.8 L607.2 544.3 L607.3 545.8 L607.5 547.3 L607.6 548.8 L607.7 550.3 L607.9 551.8 L608 553.3 L608.2 554.7 L608.4 556.2 L608.6 557.7 L608.8 559.2 L609 560.7 L609.2 562.2 L609.5 563.7 L609.7 565.1 L610 566.6 L610.2 568.1 L610.5 569.6 L610.8 571 L611 572.5 L611.3 574 L611.6 575.5 L611.9 576.9 L612.2 578.4 L612.5 579.9 L612.8 581.3 L613.2 582.8 L613.5 584.3 L613.8 585.7 L614.2 587.2 L614.5 588.7 L614.8 590.1 L615.2 591.6 L615.5 593 L615.9 594.5 L616.3 595.9 L616.6 597.4 L617 598.8 L617.4 600.3 L617.8 601.7 L618.1 603.2 L618.5 604.6 L618.9 606.1 L619.3 607.5 L619.8 609 L620.2 610.4 L620.6 611.9 L621 613.3 L621.4 614.7 L621.9 616.2 L622.3 617.6 L622.7 619 L623.2 620.5 L623.6 621.9 L624.1 623.3 L624.5 624.8 L625 626.2 L625.4 627.6 L625.9 629.1 L626.4 630.5 L626.9 631.9 L627.4 633.3 L627.8 634.7 L628.3 636.2 L628.8 637.6 L629.3 639 L629.8 640.4 L630.3 641.8 L630.8 643.2 L631.3 644.6 L631.8 646 L632.3 647.5 L632.9 648.9 L633.3 650.3 L633.8 651.7 L634.3 653.1 L634.8 654.5 L635.3 656 L635.8 657.4 L636.3 658.8 L636.7 660.2 L637.2 661.7 L637.7 663.1 L638.1 664.5 L638.6 665.9 L639.1 667.4 L639.5 668.8 L640 670.2 L640.5 671.6 L641 673 L641.5 674.5 L642 675.9 L642.5 677.3 L643 678.7 L643.6 680.1 L644.1 681.5 L644.7 682.9 L645.2 684.3 L645.8 685.7 L646.3 687.1 L646.9 688.5 L647.4 689.9 L648 691.2 L648.5 692.6 L649.1 694 L649.7 695.4 L650.3 696.8 L650.9 698.2 L651.5 699.5 L652.1 700.9 L652.8 702.2 L653.4 703.6 L654.1 704.9 L654.8 706.2 L655.6 707.5 L656.3 708.8 L657.1 710.1 L658 711.3 L658.8 712.6 L659.6 713.8 L660.5 715.1 L661.3 716.3 L662.2 717.6 L663 718.8 L663.9 720 L664.8 721.2 L665.8 722.4 L666.8 723.5 L667.8 724.6 L668.9 725.6 L670 726.6 L671.2 727.5 L672.4 728.4 L673.7 729.2 L675 729.9 L676.4 730.5 L677.7 731.1 L679.1 731.7 L680.5 732.2 L681.9 732.7 L683.4 733.2 L684.8 733.6 L686.2 734 L687.7 734.4 L689.1 734.8 L690.6 735.2 L692 735.6 L693.5 735.9 L695 736.2 L696.4 736.5 L697.9 736.9 L699.3 737.4 L700.6 738.1 L701.9 738.8 L703.1 739.7 L704.3 740.6 L705.4 741.6 L706.5 742.6 L707.5 743.7 L708.5 744.9 L709.5 746 L710.4 747.2 L711.2 748.5 L712 749.7 L712.8 751 L713.5 752.3 L714.3 753.6 L715.1 754.9 L715.9 756.2 L716.8 757.4 L717.7 758.6 L718.6 759.8 L719.5 760.9 L720.5 762.1 L721.5 763.2 L722.6 764.2 L723.7 765.2 L724.8 766.2 L726 767.1 L727.2 768 L728.5 768.8 L729.7 769.6 L731 770.4 L732.4 771 L733.8 771.6 L735.2 772.1 L736.6 772.4 L738.1 772.7 L739.6 772.9 L741 773.3 L742.4 773.8 L743.7 774.6 L744.9 775.5 L746 776.5 L747.2 777.4 L748.4 778.3 L749.7 778.9 L751.2 779.3 L752.7 779.5 L754.1 779.7 L755.6 779.8 L757.1 779.9 L758.2 779.9 L758.2 779.9" stroke="#1ee6e0" stroke-width="4"/>
<path d="M192.3 421 L195.8 402 L198.3 389.5 L202 377.1 L205.9 355.3 L209 347.5 L212.1 332 L216 321.1 L218.3 308.7 L221.4 300.9 L226.1 290 L230.9 273.7 L243.3 243.4 L247.8 243.4 L251.3 236.3 L254 234.6 L256.7 229.2 L269.1 229.2 L272.7 236.3 L294.9 236.3 L297.6 243.4 L301.1 244.3 L304.7 250.6 L307.3 251.4 L314.4 271.9 L317.1 274.6 L322.4 280.8 L326 287.9 L331.3 287.9 L334.9 280.8 L345.6 280.8 L348.3 273.3 L357.8 273.3 L360 266.1 L368.9 266.1 L371.7 258.9 L380.6 258.9 L382.8 251.7 L391.7 251.7 L394.4 244.4 L397.2 243.9 L400 236.7 L402.2 236.1 L406.7 224.4 L411 214 L413.5 203 L415.5 194 L423.9 175.4 L435.2 141.4 L439 140.5 L447.5 118.7 L450.4 117.8 L457 103.6 L459.8 102.7 L461.7 96 L465.5 95.1 L470.2 85.6 L473.1 84.7 L477.8 75.2 L481.6 73.4 L485.3 65.8 L489.1 64.8 L492 59.2 L496.7 59.2 L499.5 51.6 L543.5 51.6 L546.5 58.3 L550.6 58.3 L555.6 73.3 L559.4 73.3 L563.9 88.9 L569.4 88.9 L572.8 96.7 L578.3 96.7 L581.1 103.9 L604.4 103.9 L606.7 110 L609.4 110.6 L612.5 125 L616 143.7 L618.3 171.7 L621.8 206.7 L625.3 241.7 L628.7 280 L632.2 346 L636.8 383.3 L642.7 420.7 L647.3 458 L651.5 495.3 L657.5 541.3 L662.2 557.7 L666.8 578.7 L671.5 602 L676.2 616 L680.8 637 L685.5 653.3 L690.2 674.3 L694 690 L697.5 702 L701.1 715 L705.5 729 L710.7 740 L715 747.5 L716.8 760 L719.6 761.1 L722.6 768.1 L727.8 768.7 L733.6 775.1 L741.8 775.7 L745.3 782.1 L758.7 782.1" stroke="#fff" stroke-width="3.8"/>
</g>
<rect x="202" y="71" width="40" height="9" fill="#fff"/>
<rect x="203" y="96" width="39" height="8" fill="#f7b90c"/>
<rect x="202" y="120" width="40" height="9" fill="#9fd8e6"/>
<g font-size="21" font-weight="bold" letter-spacing="0.35">
<text x="254" y="78.7" fill="#fff">Reference</text>
<text x="256" y="107.8" fill="#f2c23a" letter-spacing="0.2">Sans lunette</text>
<text x="252.8" y="134.1" fill="#a6dbe8">Avec Lunette</text>
</g>
</svg>
</body></html>
